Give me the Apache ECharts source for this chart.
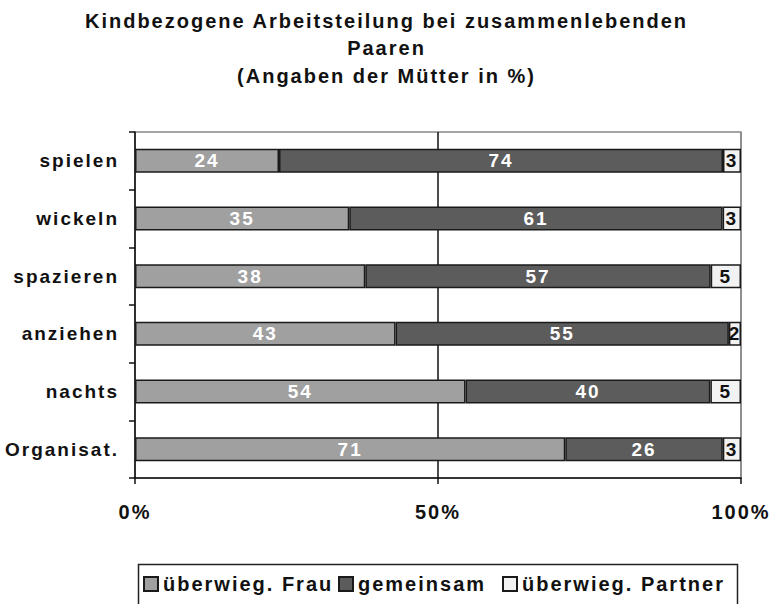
<!DOCTYPE html>
<html>
<head>
<meta charset="utf-8">
<script src="https://cdn.jsdelivr.net/npm/echarts@6/dist/echarts.min.js"></script>
<style>
  html, body { margin: 0; padding: 0; background: #fff; }
  #chart { width: 773px; height: 604px; }
  /* the original uses widely spaced bold lettering */
  #chart text { letter-spacing: 2px; }
</style>
</head>
<body>
<div id="chart"></div>
<script>
const categories = ['spielen', 'wickeln', 'spazieren', 'anziehen', 'nachts', 'Organisat.']
const frau = [24, 35, 38, 43, 54, 71]
const gemeinsam = [74, 61, 57, 55, 40, 26]
const partner = [3, 3, 5, 2, 5, 3]
const seriesNames = ['überwieg. Frau', 'gemeinsam', 'überwieg. Partner']
const xTicks = [0, 50, 100]

const font = 'Liberation Sans, Arial, sans-serif'
const totals = categories.map((c, i) => frau[i] + gemeinsam[i] + partner[i])

// 100% stacked: bar lengths are shares of the row total, labels show the raw values
const toShare = (arr) => arr.map((v, i) => ({ value: v / totals[i] * 100, raw: v }))

const makeSeries = (name, arr, color, labelColor) => ({
  name: name,
  type: 'bar',
  stack: 'total',
  barWidth: 24,
  data: toShare(arr),
  itemStyle: {
    color: color,
    borderColor: '#1a1a1a',
    borderWidth: 1.5
  },
  label: {
    show: true,
    position: 'inside',
    color: labelColor,
    fontFamily: font,
    fontWeight: 'bold',
    fontSize: 19,
    formatter: (p) => p.data.raw
  },
  emphasis: { disabled: true }
})

// one legend per entry so the spaced text does not run into the next icon
const legendLefts = [143, 338, 502]
const legends = seriesNames.map((n, i) => ({
  data: [n],
  left: legendLefts[i],
  top: 574,
  padding: 0,
  itemWidth: 14,
  itemHeight: 14,
  icon: 'rect',
  selectedMode: false,
  textStyle: {
    fontFamily: font,
    fontWeight: 'bold',
    fontSize: 20,
    color: '#111'
  }
}))

let chart = echarts.init(document.getElementById('chart'), null, { renderer: 'svg' })
let option = {
  animation: false,
  backgroundColor: '#fff',
  title: {
    text: 'Kindbezogene Arbeitsteilung bei zusammenlebenden\nPaaren\n(Angaben der Mütter in %)',
    left: 'center',
    top: 2,
    textStyle: {
      fontFamily: font,
      fontWeight: 'bold',
      fontSize: 20,
      lineHeight: 27.5,
      color: '#111'
    }
  },
  grid: {
    left: 135,
    right: 32,
    top: 132,
    bottom: 126,
    show: true,
    borderColor: '#888',
    borderWidth: 1.5
  },
  legend: legends,
  graphic: [{
    type: 'rect',
    left: 136,
    top: 562,
    shape: { width: 599, height: 60 },
    style: { fill: 'none', stroke: '#222', lineWidth: 1.5 },
    silent: true
  }],
  xAxis: {
    type: 'value',
    min: 0,
    max: 100,
    interval: 50,
    axisLine: { show: true, lineStyle: { color: '#111', width: 1.5 } },
    axisTick: { show: true, length: 6, lineStyle: { color: '#111', width: 1.5 } },
    axisLabel: {
      margin: 24,
      fontFamily: font,
      fontWeight: 'bold',
      fontSize: 20,
      color: '#111',
      formatter: (v) => xTicks.includes(v) ? v + '%' : ''
    },
    splitLine: {
      show: true,
      lineStyle: { color: ['#888', '#111', '#888'], width: 1.5 }
    }
  },
  yAxis: {
    type: 'category',
    data: categories,
    inverse: true,
    axisLine: { show: true, lineStyle: { color: '#111', width: 1.5 } },
    axisTick: { show: true, length: 6, lineStyle: { color: '#111', width: 1.5 } },
    axisLabel: {
      margin: 16,
      fontFamily: font,
      fontWeight: 'bold',
      fontSize: 19,
      color: '#111'
    }
  },
  series: [
    makeSeries(seriesNames[0], frau, '#a0a0a0', '#fff'),
    makeSeries(seriesNames[1], gemeinsam, '#5c5c5c', '#fff'),
    makeSeries(seriesNames[2], partner, '#f2f2f2', '#111')
  ]
}
chart.setOption(option)
</script>
</body>
</html>
